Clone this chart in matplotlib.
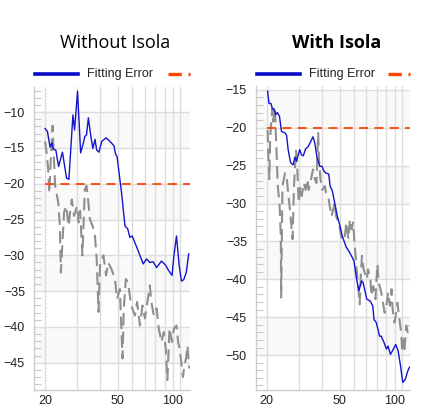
import matplotlib
matplotlib.use("Agg")
import matplotlib.pyplot as plt
from matplotlib.lines import Line2D
from matplotlib.ticker import FixedLocator, FixedFormatter, NullFormatter, MultipleLocator

# --- data ---
titles = ["Without Isola", "With Isola"]
legend_label = "Fitting Error"
threshold = -20
x_labels = [20, 50, 100]
x_grid = [30, 40, 60, 70, 80, 90, 110]

left_fit_x = [20, 20.6, 21.3, 21.8, 22.2, 22.9, 23.7, 24.9, 26.2, 27.0, 28.4, 29.0, 30.1,
              31.3, 32.4, 33.0, 33.7, 34.5, 35.6, 36.5, 37.5, 38.3, 39.4, 40.8, 43.1, 45.3,
              47.6, 48.6, 49.5, 51.3, 52.4, 54.7, 56.6, 58.2, 59.9, 63.5, 66.0, 68.8, 71.7,
              74.8, 78.0, 81.4, 86.6, 91.4, 94.6, 98.9, 101.3, 104.6, 108.2, 111.3, 114.6,
              118.3, 122.0]
left_fit_y = [-12.3, -12.7, -14.9, -14.3, -15.2, -15.3, -17.6, -15.6, -19.2, -19.4, -10.4,
              -12.5, -7.1, -15.7, -14.3, -13.4, -13.2, -10.8, -13.4, -15.1, -13.8, -15.3,
              -15.6, -14.1, -13.6, -14.1, -14.7, -15.9, -16.2, -19.4, -21.3, -25.9, -26.3,
              -27.5, -27.3, -28.9, -30.0, -31.2, -30.5, -31.0, -30.9, -31.7, -30.8, -31.4,
              -32.1, -32.8, -30.0, -27.3, -31.4, -33.6, -33.4, -32.4, -29.8]

left_ref_x = [20, 20.4, 20.8, 21.1, 21.5, 22.0, 22.2, 22.7, 23.6, 24.1, 24.4, 25.4, 26.1,
              26.9, 27.4, 28.0, 28.8, 29.9, 30.5, 31.1, 32.0, 33.0, 33.7, 34.5, 35.2, 36.4,
              37.5, 38.3, 39.2, 40.0, 41.7, 43.1, 44.3, 46.1, 48.2, 49.5, 51.3, 53.0, 53.9,
              55.3, 56.8, 59.2, 62.0, 63.7, 66.0, 68.2, 70.3, 71.7, 74.8, 76.2, 78.6, 81.4,
              83.7, 86.6, 89.2, 91.4, 93.3, 95.8, 98.9, 101.3, 104.6, 106.7, 109.0, 113.5,
              115.6, 118.0, 120.0, 123.0]
left_ref_y = [-14.1, -15.7, -18.0, -21.3, -16.6, -11.9, -14.8, -20.3, -22.6, -25.9, -32.4,
              -24.0, -23.1, -25.9, -24.0, -22.2, -24.5, -23.1, -25.4, -23.8, -30.0, -20.8,
              -20.3, -22.6, -25.0, -25.9, -27.3, -30.5, -37.9, -31.0, -30.0, -32.8, -31.0,
              -31.9, -33.3, -36.1, -34.7, -44.4, -37.4, -33.3, -33.8, -37.0, -38.4, -36.5,
              -39.8, -37.0, -38.8, -37.4, -34.2, -36.5, -38.4, -37.4, -40.2, -42.1, -40.7,
              -43.1, -47.4, -40.2, -42.1, -40.2, -39.8, -42.1, -43.1, -47.0, -45.3, -44.4,
              -42.6, -45.8]

right_fit_x = [20.25, 20.6, 21.1, 21.5, 21.9, 22.4, 22.9, 23.5, 24.1, 25.2, 25.7, 26.2, 27.0,
               27.9, 28.5, 29.1, 29.7, 30.3, 31.0, 31.7, 32.6, 33.7, 34.8, 35.8, 36.6, 37.7,
               39.0, 40.1, 41.0, 42.2, 43.6, 44.4, 45.7, 47.0, 48.6, 50.3, 51.7, 54.4, 56.2,
               58.0, 59.9, 61.9, 63.7, 65.9, 67.1, 70.3, 73.6, 75.8, 77.0, 79.2, 80.9, 82.6,
               84.3, 87.2, 90.0, 91.9, 94.6, 97.3, 101.1, 104.2, 107.1, 110.5, 114.1, 117.6,
               120.2]
right_fit_y = [-15.2, -16.8, -16.8, -17.5, -17.5, -18.3, -18.0, -18.5, -20.5, -20.7, -21.0,
               -22.9, -24.6, -24.9, -23.9, -24.4, -23.6, -22.9, -23.6, -23.7, -22.8, -22.5,
               -21.8, -21.2, -22.0, -24.0, -25.1, -25.1, -25.7, -26.0, -26.1, -27.7, -28.4,
               -29.9, -31.7, -33.0, -34.3, -35.8, -36.3, -36.9, -37.6, -40.0, -41.5, -40.2,
               -40.4, -42.6, -42.9, -43.5, -45.3, -45.7, -46.6, -47.5, -47.5, -48.3, -49.2,
               -48.8, -49.9, -49.4, -48.6, -49.4, -51.2, -53.6, -53.2, -52.1, -51.6]

right_ref_x = [20.25, 20.4, 20.7, 20.9, 21.1, 21.5, 21.7, 22.2, 22.6, 23.0, 23.5, 23.9, 24.0,
               24.4, 25.2, 25.7, 26.2, 26.7, 27.3, 27.7, 28.2, 28.9, 29.4, 29.9, 30.6, 31.1,
               31.9, 32.6, 33.4, 33.9, 34.9, 35.8, 36.6, 37.4, 38.2, 38.6, 39.3, 40.2, 41.5,
               42.2, 43.3, 44.2, 45.2, 47.0, 47.9, 48.6, 49.9, 50.6, 51.7, 53.4, 54.4, 55.8,
               56.9, 58.0, 59.2, 60.5, 61.9, 63.1, 64.3, 65.1, 66.2, 67.6, 70.3, 71.5, 73.6,
               74.6, 76.3, 78.4, 80.3, 81.7, 84.3, 86.2, 88.0, 90.0, 91.9, 94.1, 95.9, 97.3,
               99.5, 101.1, 103.3, 105.3, 108.4, 109.7, 111.0, 113.0, 115.4, 117.6, 120.2]
right_ref_y = [-20.3, -23.3, -26.8, -21.6, -19.8, -17.4, -19.2, -17.4, -22.5, -27.7, -29.9,
               -34.3, -42.4, -27.7, -26.0, -26.4, -28.6, -30.4, -33.0, -34.7, -27.7, -22.9,
               -25.5, -29.9, -27.7, -29.0, -27.3, -28.2, -26.8, -28.2, -26.8, -25.5, -26.8,
               -27.3, -20.7, -24.2, -26.8, -28.2, -27.7, -28.6, -29.0, -30.4, -31.7, -29.9,
               -31.7, -32.1, -33.0, -33.9, -34.9, -34.3, -32.5, -34.7, -32.1, -33.4, -32.5,
               -35.6, -38.7, -40.9, -43.3, -40.0, -36.9, -38.7, -40.0, -38.7, -40.0, -42.2,
               -40.9, -42.6, -38.0, -40.4, -41.7, -43.1, -44.4, -43.5, -41.7, -43.5, -41.3,
               -43.9, -45.7, -44.8, -43.1, -44.8, -47.0, -49.6, -47.9, -49.2, -46.1, -47.0,
               -46.1]

W, H = 436, 409
plt.rcParams['font.family'] = ['Liberation Sans', 'DejaVu Sans']

fig = plt.figure(figsize=(W / 100, H / 100), dpi=100)


def px(x, y):
    return x / W, 1 - y / H


def draw_panel(rect, fit_x, fit_y, ref_x, ref_y, xlim, ylim, majors):
    ax = fig.add_axes(rect)
    ax.set_xscale('log')
    ax.set_xlim(*xlim)
    ax.set_ylim(*ylim)

    # alternating light bands below the top major tick
    for i, top in enumerate(majors[:-1]):
        if i % 2 == 0:
            ax.axhspan(majors[i + 1], top, color='#f9f9f9', zorder=0, lw=0)

    ax.plot(ref_x, ref_y, color='#8f8f8f', lw=1.5, dashes=(6, 3), zorder=3)
    ax.plot(fit_x, fit_y, color='#1414cc', lw=1.0, zorder=4)
    ax.plot([20, xlim[1]], [threshold, threshold], color='#ff4500', lw=1.3,
            dashes=(5, 3.5), zorder=5)

    ax.xaxis.set_major_locator(FixedLocator(x_labels))
    ax.xaxis.set_major_formatter(FixedFormatter([str(v) for v in x_labels]))
    ax.xaxis.set_minor_locator(FixedLocator(x_grid))
    ax.xaxis.set_minor_formatter(NullFormatter())
    ax.yaxis.set_major_locator(FixedLocator(majors))
    ax.yaxis.set_minor_locator(MultipleLocator(1))

    ax.grid(True, which='major', color='#dddddd', lw=1)
    ax.grid(True, which='minor', axis='x', color='#dddddd', lw=1)
    ax.set_axisbelow(True)

    ax.tick_params(axis='y', which='major', length=0, labelsize=9, pad=6.5,
                   labelcolor='#222222')
    ax.tick_params(axis='x', which='major', length=0, labelsize=9, pad=3.5,
                   labelcolor='#222222')
    ax.tick_params(axis='x', which='minor', length=0)
    ax.tick_params(axis='y', which='minor', direction='in', length=5, width=0.8,
                   color='#c8c8c8')
    for s in ['top', 'right']:
        ax.spines[s].set_visible(False)
    for s in ['left', 'bottom']:
        ax.spines[s].set_color('#cccccc')
        ax.spines[s].set_linewidth(1)
    return ax


draw_panel([34 / W, 19 / H, 156 / W, 303 / H], left_fit_x, left_fit_y,
           left_ref_x, left_ref_y, (17.4, 124), (-48.8, -6.5),
           [-10, -15, -20, -25, -30, -35, -40, -45])
draw_panel([256 / W, 19 / H, 154 / W, 304 / H], right_fit_x, right_fit_y,
           right_ref_x, right_ref_y, (17.5, 121), (-54.6, -14.5),
           [-15, -20, -25, -30, -35, -40, -45, -50])

# titles
fig.text(*px(115, 43), titles[0], ha='center', va='center', fontsize=13,
         family=['Open Sans', 'DejaVu Sans'])
fig.text(*px(337, 43), titles[1], ha='center', va='center', fontsize=13,
         fontweight='bold', family=['Open Sans', 'DejaVu Sans'])

# legends (second entry is cut off at the panel edge)
for x0, x_end in [(35, 190), (257, 410)]:
    fig.add_artist(Line2D([x0 / W, (x0 + 43) / W], [1 - 74 / H] * 2,
                          transform=fig.transFigure, color='#0a0acc', lw=2.6))
    fig.text((x0 + 52) / W, 1 - 74 / H, legend_label, ha='left', va='center',
             fontsize=9, color='#222222')
    fig.add_artist(Line2D([(x_end - 22) / W, x_end / W], [1 - 74 / H] * 2,
                          transform=fig.transFigure, color='#ff4500', lw=2.4,
                          dashes=(4, 2)))

fig.savefig('out.png', dpi=100)
